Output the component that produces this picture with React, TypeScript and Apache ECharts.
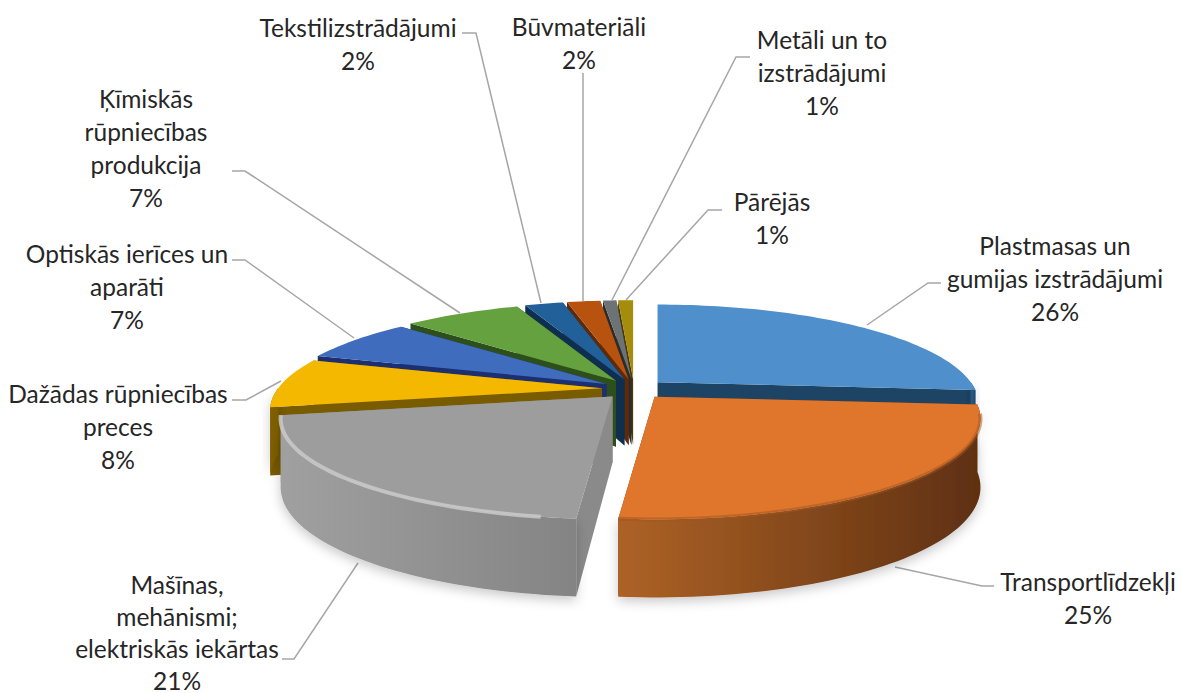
import React, { useEffect, useRef } from "react";
import * as echarts from "echarts";

const categories = [
  ["Plastmasas un", "gumijas izstrādājumi"],
  ["Transportlīdzekļi"],
  ["Mašīnas,", "mehānismi;", "elektriskās iekārtas"],
  ["Dažādas rūpniecības", "preces"],
  ["Optiskās ierīces un", "aparāti"],
  ["Ķīmiskās", "rūpniecības", "produkcija"],
  ["Tekstilizstrādājumi"],
  ["Būvmateriāli"],
  ["Metāli un to", "izstrādājumi"],
  ["Pārējās"],
];
const values = [26.3, 25.1, 20.6, 8, 7, 7, 2.3, 2, 0.8, 0.9];
const topColors = ["#4f8fcb", "#e0752c", "#9d9d9d", "#f5b800", "#3f6cbd", "#65a23f", "#22609a", "#b8530f", "#6d7274", "#a58c0c"];
const faceColors = ["#1d4464", "#7a3c12", "#8a8a8a", "#7a5c00", "#1c2f70", "#2c4f1b", "#0f2f50", "#5e2a08", "#2c2c2c", "#4a3a00"];
const wallLeft = ["#2b5c88", "#ad6226", "#a0a0a0", "#806000", "#2a4a86", "#3f6b28", "#1c4468", "#6d3310", "#444444", "#665000"];
const wallRight = ["#1f4a6e", "#5e3011", "#848484", "#7a5c00", "#223c70", "#355a20", "#173854", "#5e2a08", "#333333", "#554400"];
const rimColors = ["", "rgba(160,85,32,0.5)", "rgba(205,205,205,0.8)", "", "", "", "", "", "", ""];
const radiusScale = [0.985, 1, 1, 1, 1, 1, 1, 1, 1, 1];

const labelCenters = [
  [1055, 245], [1088, 581], [177, 584], [118, 393], [127, 253], [146, 98], [358, 27], [579, 26], [822, 39], [772, 201],
];
const lineGaps = [33, 33, 32, 33, 33, 33, 33, 33, 33, 33];
const leaders = [
  [[941, 283], [928, 283], [867, 325]],
  [[994, 586], [982, 586], [895, 567]],
  [[282, 659], [294, 659], [358, 563]],
  [[232, 400], [246, 400], [281, 381]],
  [[232, 260], [245, 260], [354, 338]],
  [[232, 171], [245, 171], [460, 313]],
  [[462, 33], [476, 33], [541, 303]],
  [[583, 73], [583, 301]],
  [[750, 57], [736, 57], [612, 300]],
  [[722, 210], [708, 210], [626, 300]],
];

const PIE = { cx: 634, cy: 389, rxRight: 318, rxLeft: 324, ry: 96, persp: 0.218, ex: 32, ey: 10, depth: 66, depthPersp: 12 };

const total = values.reduce((a, b) => a + b, 0);
const starts: number[] = [];
values.reduce((acc, v, i) => { starts[i] = (acc / total) * 360; return acc + v; }, 0);
const rad = (d: number) => (d * Math.PI) / 180;

function rimPoint(ax: number, ay: number, deg: number, drop: number, scale: number) {
  const u = Math.sin(rad(deg));
  const v = -Math.cos(rad(deg));
  const w = 1 / (1 - PIE.persp * v);
  const d = drop ? PIE.depth + PIE.depthPersp * v : 0;
  const rx = (u >= 0 ? PIE.rxRight : PIE.rxLeft) * scale;
  return [ax + rx * u * w, ay + PIE.ry * scale * v * w + d];
}

function arc(ax: number, ay: number, a: number, b: number, drop: number, scale: number) {
  const pts: number[][] = [];
  const n = Math.max(2, Math.ceil((b - a) / 1.5));
  for (let i = 0; i <= n; i++) pts.push(rimPoint(ax, ay, a + ((b - a) * i) / n, drop, scale));
  return pts;
}

const paintOrder = values
  .map((_, i) => i)
  .sort((p, q) => {
    const mid = (i: number) => starts[i] + (values[i] / total) * 180;
    return -Math.cos(rad(mid(p))) - -Math.cos(rad(mid(q)));
  });

function renderSlice(_: any, api: any) {
  const i = api.value(0);
  const val = api.value(1);
  const s = radiusScale[i];
  const a = starts[i];
  const b = a + (val / total) * 360;
  const mid = (a + b) / 2;
  const ax = PIE.cx + PIE.ex * Math.sin(rad(mid));
  const ay = PIE.cy - PIE.ey * Math.cos(rad(mid));
  const apexDrop = ay + PIE.depth;
  const children: any[] = [];
  const face = (deg: number) => {
    const t = rimPoint(ax, ay, deg, 0, s);
    const tb = rimPoint(ax, ay, deg, 1, s);
    children.push({ type: "polygon", shape: { points: [[ax, ay], t, tb, [ax, apexDrop]] }, style: { fill: faceColors[i] } });
  };
  face(b);
  face(a);
  const wa = Math.max(a, 90);
  const wb = Math.min(b, 270);
  if (wb > wa) {
    const top = arc(ax, ay, wa, wb, 0, s);
    const bot = arc(ax, ay, wa, wb, 1, s).reverse();
    children.push({
      type: "polygon",
      shape: { points: top.concat(bot) },
      style: {
        fill: {
          type: "linear", x: 0, y: 0, x2: 1, y2: 0,
          colorStops: [{ offset: 0, color: wallLeft[i] }, { offset: 1, color: wallRight[i] }],
        },
        shadowColor: "rgba(0,0,0,0.22)", shadowBlur: 12, shadowOffsetY: 4,
      },
    });
  }
  children.push({
    type: "polygon",
    shape: { points: [[ax, ay] as number[]].concat(arc(ax, ay, a, b, 0, s)) },
    style: { fill: topColors[i] },
  });
  if (rimColors[i] && wb > wa) {
    children.push({
      type: "polyline",
      shape: { points: arc(ax, ay, wa + 5, wb, 0, s) },
      style: { stroke: rimColors[i], lineWidth: 4, fill: "none" },
    });
  }
  return { type: "group", children };
}

export default function App() {
  const ref = useRef<HTMLDivElement>(null);
  useEffect(() => {
    document.body.style.margin = "0";
    const chart = echarts.init(ref.current!, undefined, { renderer: "svg" });
    const graphics: any[] = [];
    leaders.forEach((pts) => {
      graphics.push({ type: "polyline", shape: { points: pts }, style: { stroke: "#a6a6a6", lineWidth: 1.5, fill: "none" }, z: 1 });
    });
    categories.forEach((lines, i) => {
      const [x, y] = labelCenters[i];
      const pct = Math.round((values[i] / total) * 100) + "%";
      lines.concat(pct).forEach((t, k) => {
        graphics.push({
          type: "text", x, y: y + k * lineGaps[i], z: 3,
          style: { text: t, fill: "#262626", font: '24.5px Lato, "Noto Sans", sans-serif', textAlign: "center", textVerticalAlign: "middle" },
        });
      });
    });
    chart.setOption({
      animation: false,
      backgroundColor: "#ffffff",
      graphic: graphics,
      series: [
        {
          type: "custom",
          coordinateSystem: "none",
          renderItem: renderSlice,
          silent: true,
          z: 2,
          data: paintOrder.map((i) => [i, values[i]]),
        },
      ],
    });
    return () => chart.dispose();
  }, []);
  return <div ref={ref} style={{ position: "absolute", left: 0, top: 0, width: 1182, height: 693 }} />;
}
